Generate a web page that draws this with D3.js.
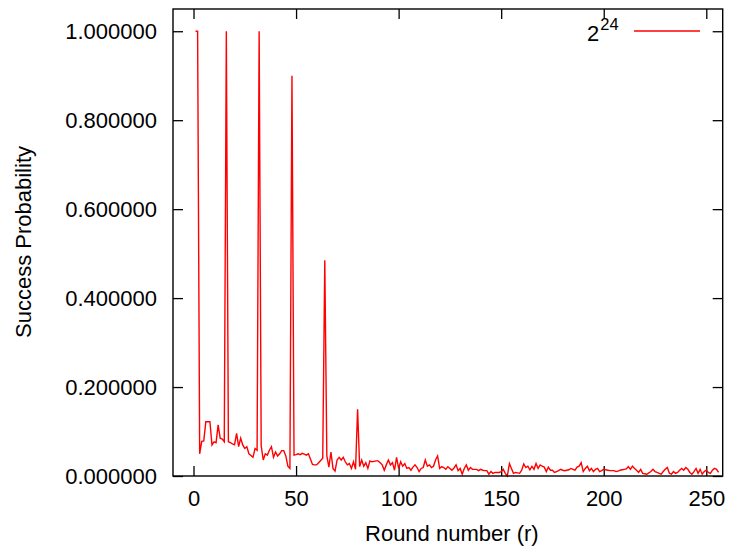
<!DOCTYPE html>
<html>
<head>
<meta charset="utf-8">
<script src="https://cdn.jsdelivr.net/npm/d3@7"></script>
<style>
  html, body { margin: 0; padding: 0; background: #fff; }
  svg { display: block; font-family: "Liberation Sans", Arial, Helvetica, sans-serif; }
</style>
</head>
<body>
<svg id="chart" width="732" height="551"></svg>
<script>
// ---- data ----
const firstRound = 1;
const successProb = [
  1.0, 1.0, 0.05, 0.078, 0.079, 0.122, 0.122, 0.122, 0.07, 0.077,
  0.075, 0.115, 0.085, 0.083, 0.077, 1.0, 0.077, 0.075, 0.072, 0.07,
  0.096, 0.066, 0.085, 0.07, 0.062, 0.066, 0.05, 0.046, 0.042, 0.062,
  0.058, 1.0, 0.068, 0.036, 0.05, 0.047, 0.058, 0.066, 0.042, 0.054,
  0.045, 0.05, 0.057, 0.057, 0.045, 0.022, 0.017, 0.9, 0.047, 0.048,
  0.05, 0.048, 0.051, 0.049, 0.047, 0.05, 0.038, 0.026, 0.025, 0.025,
  0.03, 0.035, 0.04, 0.485, 0.045, 0.02, 0.054, 0.017, 0.011, 0.036,
  0.042, 0.036, 0.042, 0.032, 0.025, 0.028, 0.017, 0.032, 0.015, 0.15,
  0.021, 0.036, 0.022, 0.030, 0.017, 0.034, 0.032, 0.033, 0.034, 0.034,
  0.030, 0.025, 0.013, 0.025, 0.036, 0.025, 0.030, 0.013, 0.042, 0.017,
  0.032, 0.022, 0.028, 0.017, 0.019, 0.013, 0.020, 0.025, 0.019, 0.010,
  0.017, 0.019, 0.036, 0.022, 0.025, 0.019, 0.022, 0.036, 0.045, 0.017,
  0.021, 0.019, 0.015, 0.021, 0.017, 0.013, 0.018, 0.025, 0.012, 0.017,
  0.004, 0.017, 0.025, 0.013, 0.019, 0.015, 0.015, 0.015, 0.012, 0.015,
  0.013, 0.012, 0.012, 0.004, 0.010, 0.006, 0.008, 0.008, 0.008, 0.010,
  0.015, 0.006, 0.0, 0.028, 0.017, 0.006, 0.008, 0.007, 0.006, 0.013,
  0.027, 0.019, 0.022, 0.014, 0.022, 0.015, 0.028, 0.017, 0.025, 0.022,
  0.020, 0.010, 0.020, 0.013, 0.013, 0.008, 0.010, 0.012, 0.015, 0.013,
  0.012, 0.013, 0.014, 0.017, 0.015, 0.013, 0.020, 0.022, 0.030, 0.010,
  0.017, 0.022, 0.012, 0.017, 0.010, 0.015, 0.017, 0.010, 0.012, 0.015,
  0.014, 0.013, 0.012, 0.012, 0.012, 0.010, 0.011, 0.013, 0.014, 0.015,
  0.016, 0.021, 0.015, 0.022, 0.017, 0.013, 0.008, 0.015, 0.006, 0.005,
  0.004, 0.007, 0.010, 0.015, 0.010, 0.008, 0.006, 0.004, 0.010, 0.015,
  0.019, 0.006, 0.004, 0.010, 0.006, 0.008, 0.013, 0.017, 0.013, 0.019,
  0.015, 0.008, 0.004, 0.010, 0.017, 0.006, 0.015, 0.004, 0.010, 0.013,
  0.008, 0.006, 0.013, 0.017, 0.015, 0.008
];
const xTicks = [0, 50, 100, 150, 200, 250];
const yTicks = [0, 0.2, 0.4, 0.6, 0.8, 1.0];
const xDomain = [-10, 258];
const yDomain = [0, 1.05];
const xTitle = "Round number (r)";
const yTitle = "Success Probability";
const legendBase = "2";
const legendExp = "24";

// ---- layout ----
const plotL = 173, plotR = 722.7, plotT = 9, plotB = 476;
const svg = d3.select("#chart");
const x = d3.scaleLinear().domain(xDomain).range([plotL, plotR]);
const y = d3.scaleLinear().domain(yDomain).range([plotB, plotT]);

const fontSize = 22;
const tickLen = 10;

// bottom axis (labels, inward ticks)
const gx = svg.append("g").attr("transform", `translate(0,${plotB})`)
  .call(d3.axisBottom(x).tickValues(xTicks).tickFormat(d3.format("d"))
    .tickSizeInner(-tickLen).tickSizeOuter(0).tickPadding(14.5));
// top mirror
const gxt = svg.append("g").attr("transform", `translate(0,${plotT})`)
  .call(d3.axisTop(x).tickValues(xTicks).tickFormat("")
    .tickSizeInner(-tickLen).tickSizeOuter(0));
// left axis
const gy = svg.append("g").attr("transform", `translate(${plotL},0)`)
  .call(d3.axisLeft(y).tickValues(yTicks).tickFormat(d3.format(".6f"))
    .tickSizeInner(-tickLen).tickSizeOuter(0).tickPadding(16));
// right mirror
const gyr = svg.append("g").attr("transform", `translate(${plotR},0)`)
  .call(d3.axisRight(y).tickValues(yTicks).tickFormat("")
    .tickSizeInner(-tickLen).tickSizeOuter(0));

[gx, gxt, gy, gyr].forEach(g => {
  g.select(".domain").remove();
  g.selectAll(".tick line").attr("stroke", "#000").attr("stroke-width", 1.3);
  g.selectAll(".tick text").attr("fill", "#000")
    .style("font-size", fontSize + "px")
    .style("font-family", "'Liberation Sans', Arial, sans-serif");
});

// data line
const line = d3.line()
  .x((d, i) => x(firstRound + i))
  .y(d => y(d));
svg.append("path")
  .datum(successProb)
  .attr("fill", "none")
  .attr("stroke", "#ff0000")
  .attr("stroke-width", 1.4)
  .attr("stroke-linejoin", "miter")
  .attr("d", line);

// frame
svg.append("rect")
  .attr("x", plotL).attr("y", plotT)
  .attr("width", plotR - plotL).attr("height", plotB - plotT)
  .attr("fill", "none").attr("stroke", "#000").attr("stroke-width", 1.4);

// axis titles
svg.append("text")
  .attr("x", (plotL + plotR) / 2 + 4).attr("y", 541)
  .attr("text-anchor", "middle")
  .style("font-size", fontSize + "px")
  .text(xTitle);
svg.append("text")
  .attr("transform", `translate(31,242) rotate(-90)`)
  .attr("text-anchor", "middle")
  .style("font-size", fontSize + "px")
  .text(yTitle);

// legend
const lt = svg.append("text")
  .attr("x", 587).attr("y", 41)
  .style("font-size", fontSize + "px");
lt.append("tspan").text(legendBase);
lt.append("tspan").attr("dx", 1).attr("dy", -11).style("font-size", "16.5px").text(legendExp);
svg.append("line")
  .attr("x1", 634).attr("x2", 700).attr("y1", 31).attr("y2", 31)
  .attr("stroke", "#ff0000").attr("stroke-width", 1.4);
</script>
</body>
</html>
